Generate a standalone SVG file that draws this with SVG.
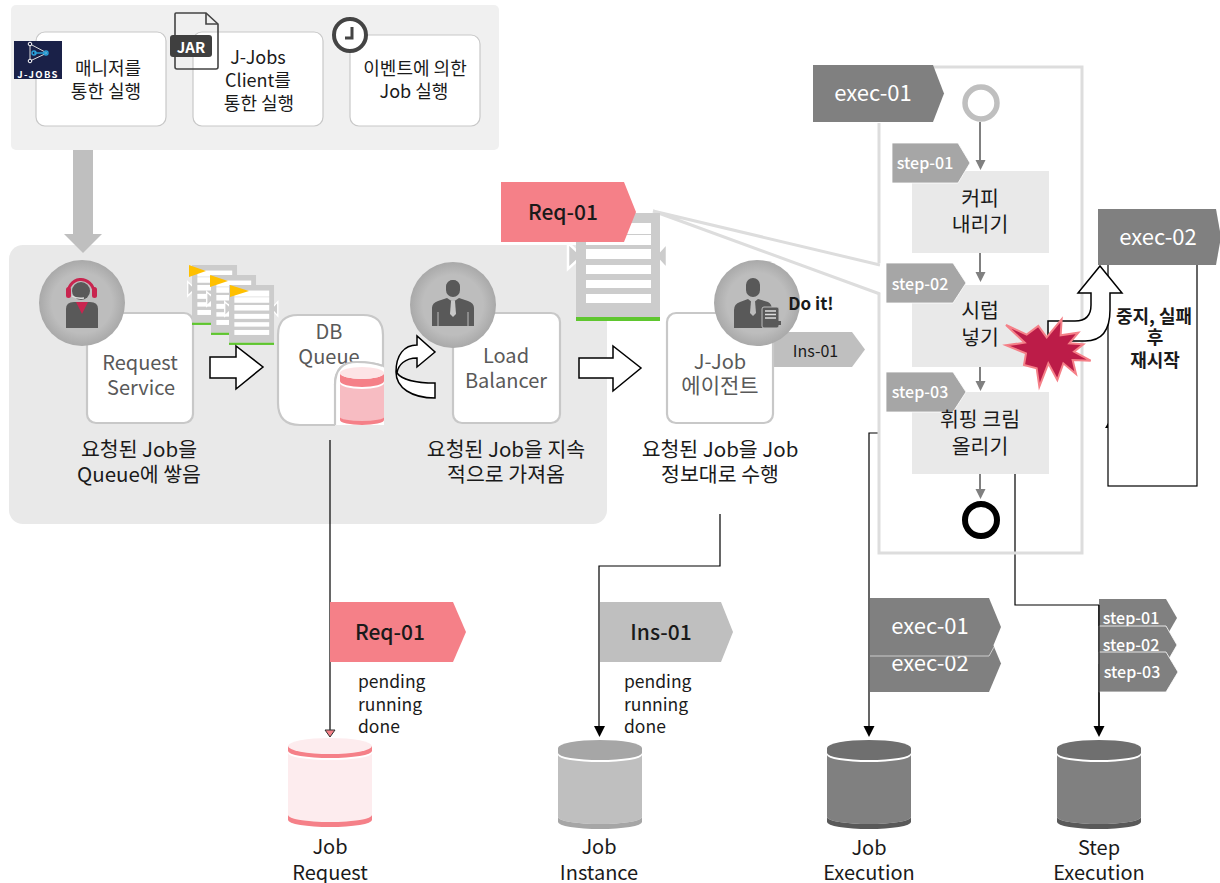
<svg xmlns="http://www.w3.org/2000/svg" width="1220" height="883" viewBox="0 0 1220 883">
<style>
text{font-family:"Noto Sans CJK KR","Noto Sans",sans-serif;text-anchor:middle;fill:#1a1a1a;font-size:18px}
.card{fill:#fff;stroke:#c8c8c8;stroke-width:1.2}
.card2{fill:#fff;stroke:#c8c8c8;stroke-width:2.2}
.gt{fill:#595959;font-size:20px}
.cap{font-size:20.5px}
.lbl{font-size:20px}
.big{font-size:21px;font-weight:500}
.wt{fill:#fff}
.stp{fill:#fff;font-size:16px;font-weight:500}
.sk{font-size:20.5px}
.arrow{fill:#fff;stroke:#000;stroke-width:1.5}
.line{fill:none;stroke:#000;stroke-width:1.2}
.gl{stroke:#808080;stroke-width:2;fill:none}
.gh{fill:#808080}
.step{fill:#e9e9e9}
.tagS{fill:#a6a6a6;stroke:#fff;stroke-width:.8}
.tagE{fill:#808080}
.dk{fill:#595959}
.zoom{stroke:#ddd;stroke-width:3;fill:none}
.st{text-anchor:start;font-size:17.5px}
.bd{font-size:18px;font-weight:700}
</style>
<defs>
<radialGradient id="cg"><stop offset="0.7" stop-color="#bdbdbd"/><stop offset="1" stop-color="#a9a9a9"/></radialGradient>
<g id="doc">
<path fill="#ccc" stroke="#fff" stroke-width="2.5" d="M-8,30 L6,43 L-8,56 Z"/>
<path fill="#ccc" stroke="#fff" stroke-width="2.5" d="M91,30 L79,43 L91,56 Z"/>
<rect width="84" height="104" fill="#ccc"/>
<rect y="104" width="84" height="4" fill="#5fc62f"/>
<rect x="10" y="10" width="65" height="11" fill="#fff"/>
<rect x="10" y="22" width="65" height="10" fill="#fff"/>
<rect x="10" y="36" width="65" height="10" fill="#fff"/>
<rect x="10" y="52" width="65" height="9" fill="#fff"/>
<rect x="10" y="67" width="65" height="8" fill="#fff"/>
<rect x="10" y="81" width="65" height="9" fill="#fff"/>
</g>
<path id="cylB" d="M-42,6 A42,7 0 0 0 42,6 V11 A42,7 0 0 1 -42,11 Z"/>
</defs>

<g id="trigger-panel">
<rect x="11" y="5" width="488" height="145" rx="5" fill="#f0f0f0"/>
</g>
<g id="manager-run">
<rect class="card" x="36" y="32" width="130" height="94" rx="9"/>
<text x="108" y="75">매니저를</text><text x="106" y="98">통한 실행</text>
<rect x="14" y="41" width="48" height="38" fill="#1a2148"/>
<g stroke="#ddd" fill="none" stroke-width="1"><path d="M30,44 L47,53 L30,61 Z"/></g>
<g stroke="#29a3dc" fill="none" stroke-width="1.4"><path d="M34,53 H47"/><circle cx="34" cy="53" r="2"/><circle cx="46" cy="53" r="2"/></g>
<circle cx="30" cy="44" r="1.8" fill="#1a2148" stroke="#fff"/><circle cx="30" cy="61" r="1.8" fill="#1a2148" stroke="#fff"/>
<text x="38" y="78" class="wt" style="font-size:9.500px;font-weight:700;letter-spacing:1.300px">J-JOBS</text>
</g>
<g id="client-run">
<rect class="card" x="193" y="32" width="130" height="94" rx="9"/>
<path d="M176,13 H206 L218,24 V67 Q218,69 216,69 H177 Q175,69 175,67 V14 Q175,13 176,13 Z" fill="none" stroke="#444" stroke-width="1.6"/>
<path d="M206,13 V24 H218" fill="none" stroke="#444" stroke-width="1.6"/>
<rect x="170" y="35" width="42" height="22" rx="3" fill="#3f3f3f"/>
<text x="191" y="52.500" class="wt" style="font-size:15px;font-weight:700">JAR</text>
<text x="258" y="64">J-Jobs</text><text x="258" y="87">Client를</text><text x="259" y="110">통한 실행</text>
</g>
<g id="event-run">
<rect class="card" x="350" y="35" width="130" height="91" rx="9"/>
<circle cx="350" cy="35" r="16" fill="#fff" stroke="#444" stroke-width="4"/>
<path d="M352,27 V38 H345" fill="none" stroke="#444" stroke-width="3"/>
<text x="415" y="75">이벤트에 의한</text><text x="414" y="98">Job 실행</text>
</g>

<g id="main-panel">
<rect x="9" y="245" width="598" height="279" rx="14" fill="#e9e9e9"/>
</g>
<path id="down-arrow" d="M73,150 H93 V234 H102 L83,253 L64,234 H73 Z" fill="#bfbfbf"/>

<g id="request-service">
<rect class="card2" x="87" y="313" width="106" height="110" rx="9"/>
<circle cx="82" cy="303" r="43" fill="url(#cg)"/>
<path class="dk" d="M66,328 V309 Q66,302 74,302 H90 Q98,302 98,309 V328 Z"/>
<path d="M76,302 H88 L82,314 Z" fill="#c8254f"/>
<circle cx="81" cy="291" r="9" class="dk"/>
<path d="M68,295 A13,14 0 0 1 94,292" fill="none" stroke="#c8254f" stroke-width="3"/>
<rect x="66" y="287" width="5" height="11" rx="2.500" fill="#c8254f"/>
<rect x="92" y="287" width="5" height="11" rx="2.500" fill="#c8254f"/>
<path d="M72,296 Q76,299 84,298" fill="none" stroke="#ddd" stroke-width="1.500"/>
<text class="gt" x="140" y="370">Request</text><text class="gt" x="141" y="395">Service</text>
<text class="cap" x="139" y="457">요청된 Job을</text><text class="cap" x="139" y="482">Queue에 쌓음</text>
</g>
<g id="job-docs">
<use href="#doc" transform="translate(192,265) scale(.536,.555)"/>
<use href="#doc" transform="translate(211,275) scale(.536,.555)"/>
<use href="#doc" transform="translate(229,285) scale(.536,.555)"/>
<path d="M189,265 L206,271 L189,277 Z M210,275 L228,281 L210,287 Z M230,285 L249,291 L230,297 Z" fill="#ffc000"/>
</g>
<path id="arrow-a" class="arrow" d="M210,357 H236 V346 L263,367 L236,389 V378 H210 Z"/>
<g id="db-queue">
<path d="M298,315 H363 Q383,315 383,335 V366 L335,425 H300 Q278,425 278,403 V335 Q278,315 298,315 Z" fill="#fff"/>
<path d="M335,425 V385 Q335,362 357,362 Q372,362 384,366 V425 Z" fill="#fff"/>
<path d="M335,425 H300 Q278,425 278,403 V335 Q278,315 298,315 H363 Q383,315 383,335 V366 Q372,362 357,362 Q335,362 335,385 V425" fill="none" stroke="#c8c8c8" stroke-width="2.200"/>
<text class="gt" x="329" y="339">DB</text><text class="gt" x="329" y="364">Queue</text>
<path d="M335,385 Q335,362 357,362 Q372,362 383,366 V385 Z" fill="#fff"/>
<path d="M335,385 Q335,362 357,362 Q372,362 383,366" fill="none" stroke="#c8c8c8" stroke-width="2.200"/>
<path d="M340,373 A22,6 0 0 0 384,373 V381 A22,6 0 0 1 340,381 Z" fill="#f58088"/>
<ellipse cx="362" cy="373" rx="22" ry="6" fill="#fde4e6"/>
<path d="M340,383 A22,6 0 0 0 384,383 V417 A22,5 0 0 1 340,417 Z" fill="#f7bcc2"/>
<path d="M340,417 A22,4 0 0 0 384,417 V420 A22,5 0 0 1 340,420 Z" fill="#f58088"/>
</g>
<path id="curved-arrow" class="arrow" d="M435,352 L417,367 V358 C405,358 398,365 397,373 C402,380 418,383 435,383 V398 C412,398 396,388 396,372 C396,355 404,345 417,345 V336 Z"/>
<g id="load-balancer">
<rect class="card2" x="453" y="313" width="107" height="110" rx="9"/>
<circle cx="453" cy="305" r="43" fill="url(#cg)"/>
<circle cx="453" cy="287" r="7" class="dk"/><rect x="446" y="280" width="14" height="17" rx="7" class="dk"/>
<path class="dk" d="M432,326 V308 Q432,303 438,301 L447,298 L453,302 L459,298 L468,301 Q474,303 474,308 V326 Z"/>
<path d="M451,301 H455 L456,314 L453,317 L450,314 Z" fill="#c8c8c8"/>
<path d="M438,312 V326 M468,312 V326" stroke="#bdbdbd" stroke-width="1"/>
<text class="gt" x="506" y="363">Load</text><text class="gt" x="506" y="388">Balancer</text>
<text class="cap" x="506" y="457">요청된 Job을 지속</text><text class="cap" x="506" y="482">적으로 가져옴</text>
</g>
<path id="arrow-b" class="arrow" d="M579,358 H613 V346 L641,368 L613,391 V378 H579 Z"/>

<g id="connectors">
<path class="zoom" d="M653,211 L880,265 M653,211 L880,294"/>
<path class="line" d="M330,440 V731"/>
<path d="M325,730 H335 L330,737 Z" fill="#f58088" stroke="#333" stroke-width="1"/>
<path class="line" d="M720,514 V566 H599 V730"/>
<path d="M594,726 H605 L599.500,737 Z"/>
<path class="line" d="M878,433 H869 V730"/>
<path d="M863.500,726 H874.500 L869,737 Z"/>
<path class="line" d="M1015,474 V605 H1099 V730"/>
<path d="M1093.500,726 H1104.500 L1099,737 Z"/>
</g>

<g id="job-agent">
<use href="#doc" transform="translate(576,213)"/>
<path d="M501,182 H624 L636,212 L624,242 H501 Z" fill="#f58088"/>
<text class="big" x="563" y="220">Req-01</text>
<path d="M773,332 H852 L865,349.500 L852,367 H773 Z" fill="#bfbfbf"/>
<text x="815.500" y="357" style="font-size:16px">Ins-01</text>
<rect class="card2" x="667" y="313" width="106" height="110" rx="9"/>
<circle cx="757" cy="303" r="43" fill="url(#cg)"/>
<circle cx="753" cy="287" r="7" class="dk"/><rect x="746" y="278" width="14" height="19" rx="7" class="dk"/>
<path class="dk" d="M734,328 V310 Q734,304 740,302 L748,299 L753,303 L758,299 L768,302 Q772,304 772,310 V328 Z"/>
<path d="M751,301 H755 L756,313 L753,316 L750,313 Z" fill="#bdbdbd"/>
<rect x="762" y="307" width="17" height="21" rx="2" class="dk" stroke="#bdbdbd"/>
<path d="M765,311 H776 M765,314.500 H776 M765,318 H776" stroke="#ddd" stroke-width="1.300"/>
<rect x="772" y="321" width="9" height="4" class="dk"/>
<text x="811" y="310" style="font-size:17px;font-weight:700">Do it!</text>
<text class="gt" x="720" y="369">J-Job</text><text class="gt" x="720" y="393" style="font-size:21px">에이전트</text>
<text class="cap" x="720" y="457">요청된 Job을 Job</text><text class="cap" x="720" y="482">정보대로 수행</text>
</g>

<g id="exec-01-flow">
<path d="M879,123 V263 M879,293 V553 H1082 V67 H930" fill="none" stroke="#ddd" stroke-width="3"/>
<path class="tagE" d="M813,65 H933 L944,93.500 L933,122 H813 Z"/>
<text class="wt" x="873" y="101" style="font-size:22px">exec-01</text>
<circle cx="981" cy="103" r="16" fill="#fff" stroke="#bfbfbf" stroke-width="5.500"/>
<path class="gl" d="M980,122 V162 M980,253 V274 M980,367 V383 M980,474 V491"/>
<path class="gh" d="M975.500,160 H985.500 L980.500,170 Z M975.500,272 H985.500 L980.500,282 Z M975.500,381 H985.500 L980.500,391 Z M975.500,489 H985.500 L980.500,499 Z"/>
<rect class="step" x="912" y="171" width="137" height="82"/>
<path class="tagS" d="M892,143 H958 L970,163 L958,183 H892 Z"/>
<text class="stp" x="925" y="169">step-01</text>
<text class="sk" x="980" y="206">커피</text><text class="sk" x="980" y="232">내리기</text>
<rect class="step" x="912" y="285" width="137" height="82"/>
<path class="tagS" d="M886,263 H953 L966,283 L953,303 H886 Z"/>
<text class="stp" x="920" y="290">step-02</text>
<text class="sk" x="980" y="318">시럽</text><text class="sk" x="980" y="345">넣기</text>
<rect class="step" x="912" y="392" width="137" height="82"/>
<path class="tagS" d="M886,372 H953 L966,392 L953,412 H886 Z"/>
<text class="stp" x="920" y="398">step-03</text>
<text class="sk" x="980" y="427">휘핑 크림</text><text class="sk" x="980" y="454">올리기</text>
<circle cx="981" cy="520" r="16" fill="#fff" stroke="#000" stroke-width="6"/>
</g>

<g id="exec-02-restart">
<rect x="1108" y="262" width="89" height="224" fill="#fff" stroke="#000" stroke-width="1.200"/>
<path class="tagE" d="M1098,209 H1216 L1221,237 L1216,265 H1098 Z"/>
<text class="wt" x="1158" y="245" style="font-size:22px">exec-02</text>
<path d="M1105,428 L1108,423 V428 Z"/>
<path class="arrow" d="M1100,266 L1122,293 H1110 V310 Q1110,341 1085,341 H1060 V335 H1048 V321 H1075 Q1091,321 1091,305 V293 H1078 Z"/>
<text class="bd" x="1154" y="323">중지, 실패</text><text class="bd" x="1155" y="344">후</text><text class="bd" x="1155" y="367">재시작</text>
<polygon transform="translate(1000,310) scale(.3333)" fill="#bc1c48" stroke="#f58088" stroke-width="6" points="18,45 80,74 115,48 140,82 185,28 182,76 235,68 208,100 250,103 222,125 272,152 218,150 228,192 190,160 172,210 145,160 118,230 110,175 72,165 78,130 18,106 74,98"/>
</g>

<g id="job-request">
<path d="M330,602 H453 L466,632 L453,662 H330 Z" fill="#f58088"/>
<text class="big" x="390" y="640">Req-01</text>
<text class="st" x="358" y="688">pending</text><text class="st" x="358" y="711">running</text><text class="st" x="358" y="733">done</text>
<g transform="translate(330,738)">
<path d="M-42,8 V13 A42,7 0 0 0 42,13 V8 Z" fill="#f58088"/><ellipse cy="8" rx="42" ry="8" fill="#fdecee"/>
<path d="M-42,15 A42,7 0 0 0 42,15 V77 A42,7 0 0 1 -42,77 Z" fill="#fdecee"/>
<use href="#cylB" y="71" fill="#f58088"/>
</g>
<text class="lbl" x="330" y="854">Job</text><text class="lbl" x="330" y="880">Request</text>
</g>
<g id="job-instance">
<path d="M600,602 H721 L733,632 L721,662 H600 Z" fill="#bfbfbf"/>
<text class="big" x="661" y="640">Ins-01</text>
<text class="st" x="624" y="688">pending</text><text class="st" x="624" y="711">running</text><text class="st" x="624" y="733">done</text>
<g transform="translate(600,740)">
<path d="M-42,8 V13 A42,7 0 0 0 42,13 V8 Z" fill="#a6a6a6"/><ellipse cy="8" rx="42" ry="8" fill="#a6a6a6"/>
<path d="M-42,15 A42,7 0 0 0 42,15 V77 A42,7 0 0 1 -42,77 Z" fill="#bfbfbf"/>
<use href="#cylB" y="71" fill="#a6a6a6"/>
</g>
<text class="lbl" x="599" y="854">Job</text><text class="lbl" x="599" y="880">Instance</text>
</g>
<g id="job-execution">
<path class="tagE" d="M870,635 H989 L1001,663.500 L989,692 H870 Z"/>
<text class="wt" x="930" y="671" style="font-size:22px">exec-02</text>
<path class="tagE" d="M870,598 H989 L1001,627 L989,656 H870 Z"/>
<path d="M870,656 H989 L994,647" fill="none" stroke="#ccc" stroke-width="1"/>
<text class="wt" x="930" y="634" style="font-size:22px">exec-01</text>
<g transform="translate(869,740)">
<path d="M-42,8 V13 A42,7 0 0 0 42,13 V8 Z" fill="#6f6f6f"/><ellipse cy="8" rx="42" ry="8" fill="#6f6f6f"/>
<path d="M-42,15 A42,7 0 0 0 42,15 V77 A42,7 0 0 1 -42,77 Z" fill="#808080"/>
<use href="#cylB" y="71" fill="#595959"/>
</g>
<text class="lbl" x="869" y="855">Job</text><text class="lbl" x="869" y="880">Execution</text>
</g>
<g id="step-execution">
<path class="tagE" d="M1099,599 H1166 L1177,618 L1166,637 H1099 Z"/>
<text class="stp" x="1131" y="624">step-01</text>
<path class="tagE" stroke="#fff" stroke-width=".8" d="M1099,626 H1166 L1177,645 L1166,664 H1099 Z"/>
<text class="stp" x="1131" y="651">step-02</text>
<path class="tagE" stroke="#fff" stroke-width=".8" d="M1099,652 H1166 L1178,672 L1166,692 H1099 Z"/>
<text class="stp" x="1132" y="678">step-03</text>
<g transform="translate(1099,740)">
<path d="M-42,8 V13 A42,7 0 0 0 42,13 V8 Z" fill="#6f6f6f"/><ellipse cy="8" rx="42" ry="8" fill="#6f6f6f"/>
<path d="M-42,15 A42,7 0 0 0 42,15 V77 A42,7 0 0 1 -42,77 Z" fill="#808080"/>
<use href="#cylB" y="71" fill="#595959"/>
</g>
<text class="lbl" x="1099" y="855">Step</text><text class="lbl" x="1099" y="880">Execution</text>
</g>
<path class="line" d="M1099,605 V730"/>
</svg>
